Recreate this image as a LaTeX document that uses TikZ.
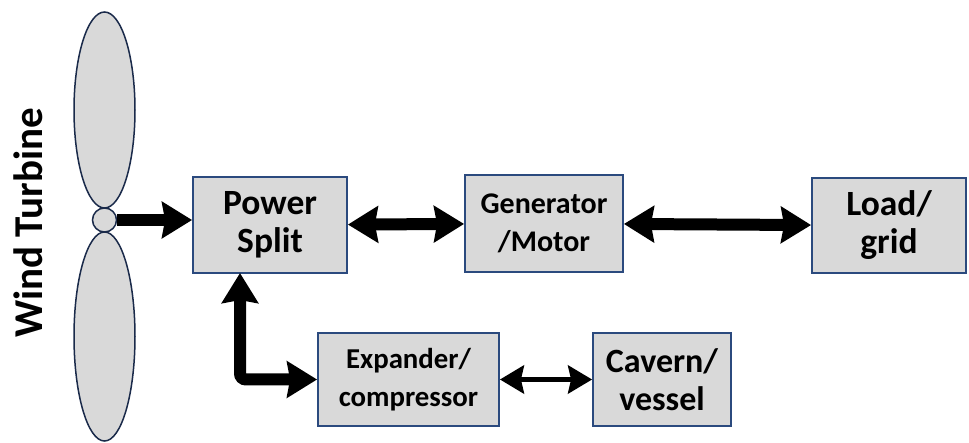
\documentclass[tikz,border=0pt]{standalone}
\usepackage{fontspec}
\setmainfont{Carlito}
\usetikzlibrary{arrows.meta}
\definecolor{boxfill}{HTML}{D9D9D9}
\definecolor{boxline}{HTML}{2B4A7E}
\definecolor{bladeline}{HTML}{1A2A4A}
\tikzset{
  block/.style={draw=boxline, line width=1.8pt, fill=boxfill, align=center,
    inner sep=0pt, font=\bfseries\fontsize{#1}{38}\selectfont},
  blade/.style={draw=bladeline, line width=1.5pt, fill=boxfill},
  bigarrow/.style={line width=12pt,
    {Stealth[length=30pt,width=36pt,inset=3pt]}-{Stealth[length=30pt,width=36pt,inset=3pt]}},
  onearrow/.style={line width=12pt, -{Stealth[length=30pt,width=36pt,inset=3pt]}},
  smallarrow/.style={line width=5pt,
    {Stealth[length=24pt,width=28pt,inset=3pt]}-{Stealth[length=24pt,width=28pt,inset=3pt]}},
}
\begin{document}
\begin{tikzpicture}[x=1pt,y=-1pt]
  \useasboundingbox[fill=white] (0,0) rectangle (969,443);

  % turbine rotor
  \draw[blade] (104.5,110) ellipse [x radius=30.5, y radius=98];
  \draw[blade] (104.5,336.5) ellipse [x radius=30.5, y radius=104.5];
  \node[circle, draw=bladeline, line width=1.5pt, fill=boxfill, minimum size=24pt, inner sep=0pt] (hub) at (104.5,220) {};
  \node[rotate=90, font=\bfseries\fontsize{41}{44}\selectfont] (wt) at (28,223) {Wind Turbine};

  % blocks
  \node[block=35.5, minimum width=154pt, minimum height=96pt] (ps) at (270,225) {Power\\Split};
  \node[block=30, minimum width=158pt, minimum height=97pt] (gm) at (544,223.5) {Generator\\/Motor};
  \node[block=35.5, minimum width=154pt, minimum height=95pt] (lg) at (889,225.5) {Load/\\grid};
  \node[block=28.8, minimum width=181pt, minimum height=93pt] (ex) at (408.5,379.5) {Expander/\\compressor};
  \node[block=34, minimum width=138pt, minimum height=93pt] (cv) at (662,379.5) {Cavern/\\vessel};

  % connectors
  \draw[onearrow] (hub.east) -- (hub.east -| ps.west);
  \draw[bigarrow] (ps) -- (gm);
  \draw[bigarrow] (gm) -- (lg);
  \coordinate (psfoot) at (240,273);
  \draw[bigarrow, rounded corners=6pt] (psfoot) |- (ex.west);
  \draw[smallarrow] (ex) -- (cv);
\end{tikzpicture}
\end{document}
